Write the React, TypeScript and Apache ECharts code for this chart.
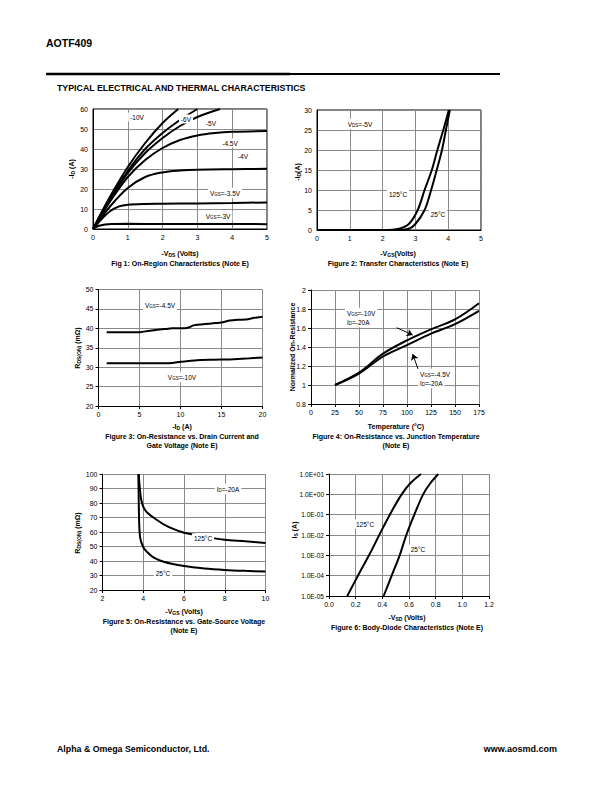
import React, { useEffect, useRef } from 'react';
import * as echarts from 'echarts';

const FF = '"Liberation Sans", Arial, Helvetica, sans-serif';

// ---------- Fig 1: On-Region Characteristics ----------
const fig1Vgs10 = [[0, 0], [0.25, 8.5], [0.5, 16.5], [1, 31], [1.5, 43], [2, 53], [2.45, 60]];
const fig1Vgs6 = [[0, 0], [0.5, 15.5], [1, 29], [1.5, 40], [2, 48], [2.5, 54.5], [3, 60]];
const fig1Vgs5 = [[0, 0], [0.5, 15], [1, 28], [1.5, 38], [2, 45.5], [2.5, 51.5], [3, 56], [3.65, 60]];
const fig1Vgs45 = [[0, 0], [0.5, 14], [1, 26], [1.5, 34.5], [2, 40.5], [2.5, 44.5], [3, 46.8], [3.5, 48], [4, 48.6], [5, 49]];
const fig1Vgs4 = [[0, 0], [0.5, 11.5], [1, 20.5], [1.5, 26], [2, 28.3], [2.5, 29.2], [3, 29.6], [4, 29.9], [5, 30.1]];
const fig1Vgs35 = [[0, 0], [0.25, 5], [0.5, 9], [0.75, 11.3], [1, 12.1], [1.5, 12.5], [2, 12.6], [3, 12.8], [4, 13], [5, 13.3]];
const fig1Vgs3 = [[0, 0], [0.15, 1.5], [0.35, 2.3], [0.6, 2.5], [1, 2.6], [2, 2.5], [3, 2.5], [4, 2.5], [5, 2.4]];

// ---------- Fig 2: Transfer Characteristics ----------
const fig2T125 = [[0, 0], [2.2, 0], [2.5, 0.3], [2.8, 1.5], [3.07, 5], [3.28, 10], [3.5, 15], [3.67, 20], [3.85, 25], [4.02, 30]];
const fig2T25 = [[0, 0], [2.5, 0], [2.8, 0.3], [3.0, 1.5], [3.28, 5], [3.48, 10], [3.65, 15], [3.81, 20], [3.93, 25], [4.05, 30]];

// ---------- Fig 3: On-Resistance vs Drain Current ----------
const fig3Vgs45 = [[1, 39], [3, 39], [5, 39], [6, 39.3], [7, 39.6], [8, 39.8], [9, 40], [10.5, 40], [11, 40.2], [11.5, 40.7], [12, 40.9], [13, 41.1], [14, 41.3], [15, 41.5], [16, 42], [17, 42.2], [18, 42.3], [19, 42.7], [20, 43]];
const fig3Vgs10 = [[1, 31], [5, 31], [8, 31], [9, 31.1], [10, 31.4], [11, 31.6], [12, 31.8], [14, 31.9], [16, 32], [18, 32.2], [20, 32.5]];

// ---------- Fig 4: On-Resistance vs Junction Temperature ----------
const fig4Vgs10 = [[25, 1], [50, 1.13], [75, 1.33], [100, 1.47], [125, 1.586], [150, 1.69], [175, 1.86]];
const fig4Vgs45 = [[25, 1], [50, 1.12], [75, 1.3], [100, 1.42], [125, 1.54], [150, 1.64], [175, 1.78]];
const fig4Arrow10 = [[89.3, 1.603], [105.9, 1.526]];
const fig4Arrow45 = [[111.5, 1.168], [105.9, 1.326]];

// ---------- Fig 5: On-Resistance vs Gate-Source Voltage ----------
const fig5T125 = [[3.78, 100], [3.82, 92], [3.88, 84], [3.95, 79.5], [4.05, 76], [4.2, 73.3], [4.5, 70], [5, 65.3], [5.5, 62], [6, 59.5], [6.4, 58.4], [7, 57], [7.5, 55.6], [8, 54.7], [9, 53.6], [10, 52.4]];
const fig5T25 = [[3.76, 100], [3.78, 80], [3.8, 66], [3.85, 56], [4, 49.5], [4.2, 46], [4.5, 42.5], [5, 39.5], [6, 36.5], [7, 34.8], [8, 33.8], [9, 33.2], [10, 32.8]];

// ---------- Fig 6: Body-Diode Characteristics ----------
const fig6T125 = [[0.137, 1e-5], [0.217, 1e-4], [0.3, 1e-3], [0.377, 1e-2], [0.456, 1e-1], [0.545, 1], [0.61, 3.5], [0.69, 10]];
const fig6T25 = [[0.41, 1e-5], [0.47, 1e-4], [0.53, 1e-3], [0.58, 1e-2], [0.64, 1e-1], [0.706, 1], [0.76, 3.5], [0.82, 10]];

const grids = [
  { left: 93, top: 109, width: 174, height: 120 },
  { left: 317, top: 110, width: 164, height: 120 },
  { left: 98.5, top: 289.5, width: 164, height: 116.5 },
  { left: 311, top: 290, width: 168, height: 114 },
  { left: 102.5, top: 474, width: 163, height: 116 },
  { left: 329, top: 474, width: 160, height: 122 },
];

const axisRanges = [
  { x: [0, 5, 1], y: [0, 60, 10] },
  { x: [0, 5, 1], y: [0, 30, 5] },
  { x: [0, 20, 5], y: [20, 50, 5] },
  { x: [0, 175, 25], y: [0.8, 2, 0.2] },
  { x: [2, 10, 2], y: [20, 100, 10] },
  { x: [0, 1.2, 0.2], y: [1e-5, 10, 0] },
];

const subRich = (size: number, bold: boolean) => ({
  s: { fontSize: size - 2, fontFamily: FF, fontWeight: bold ? 'bold' : 'normal', fill: '#000', verticalAlign: 'bottom', lineHeight: size + 2 },
  n: { fontSize: size, fontFamily: FF, fontWeight: bold ? 'bold' : 'normal', fill: '#000', lineHeight: size + 2 },
});

function txt(x: number, y: number, text: string, o: any = {}) {
  const size = o.size ?? 6.5;
  const bold = o.bold ?? false;
  const align = o.align ?? 'center';
  const style: any = {
    text,
    fontSize: size,
    fontFamily: FF,
    fontWeight: bold ? 'bold' : 'normal',
    fill: '#000',
    align,
    textAlign: align,
    verticalAlign: 'middle',
    textVerticalAlign: 'middle',
    rich: subRich(size, bold),
  };
  if (o.bg) {
    style.backgroundColor = '#fff';
    style.padding = [1, 2, 1, 2];
  }
  return { type: 'text', x, y, rotation: o.rot ?? 0, style, z: 100 };
}

function expLabel(v: number) {
  const e = Math.round(Math.log10(v));
  return '1.0E' + (e < 0 ? '-' : '+') + String(Math.abs(e)).padStart(2, '0');
}

export default function App() {
  const ref = useRef<HTMLDivElement>(null);
  useEffect(() => {
    if (!ref.current) return;
    const chart = echarts.init(ref.current, undefined, { renderer: 'svg' });

    const xAxis: any[] = [];
    const yAxis: any[] = [];
    axisRanges.forEach((r, i) => {
      const boxed = i < 2;
      const tick = { show: !boxed, length: 3, inside: false, lineStyle: { color: '#000' } };
      xAxis.push({
        type: 'value', gridIndex: i, min: r.x[0], max: r.x[1], interval: r.x[2],
        axisLine: { show: true, onZero: false, lineStyle: { color: '#000', width: 1 } },
        axisTick: tick,
        axisLabel: {
          fontSize: 7, fontFamily: FF, color: '#000', margin: 5,
          formatter: i === 5 ? (v: number) => v.toFixed(1) : undefined,
        },
        splitLine: { show: true, lineStyle: { color: '#8a8a8a', width: 1 } },
      });
      if (i === 5) {
        yAxis.push({
          type: 'log', logBase: 10, gridIndex: i, min: r.y[0], max: r.y[1],
          axisLine: { show: true, onZero: false, lineStyle: { color: '#000', width: 1 } },
          axisTick: tick,
          minorTick: { show: false },
          axisLabel: { fontSize: 6.5, fontFamily: FF, color: '#000', margin: 5, formatter: expLabel },
          splitLine: { show: true, lineStyle: { color: '#8a8a8a', width: 1 } },
        });
      } else {
        yAxis.push({
          type: 'value', gridIndex: i, min: r.y[0], max: r.y[1], interval: r.y[2],
          axisLine: { show: true, onZero: false, lineStyle: { color: '#000', width: 1 } },
          axisTick: tick,
          axisLabel: { fontSize: 7, fontFamily: FF, color: '#000', margin: 5 },
          splitLine: { show: true, lineStyle: { color: '#8a8a8a', width: 1 } },
        });
      }
    });

    const line = (gi: number, data: number[][], extra: any = {}) => ({
      type: 'line', xAxisIndex: gi, yAxisIndex: gi, data, showSymbol: false, symbol: 'none',
      smooth: 0.35, clip: true, silent: true,
      lineStyle: { color: '#000', width: 2 }, ...extra,
    });

    const series: any[] = [
      line(0, fig1Vgs10), line(0, fig1Vgs6), line(0, fig1Vgs5), line(0, fig1Vgs45),
      line(0, fig1Vgs4), line(0, fig1Vgs35), line(0, fig1Vgs3),
      line(1, fig2T125), line(1, fig2T25),
      line(2, fig3Vgs45, { smooth: 0.2 }), line(2, fig3Vgs10, { smooth: 0.2 }),
      line(3, fig4Vgs10, {
        markLine: {
          silent: true, symbol: ['none', 'arrow'], symbolSize: 6, animation: false,
          label: { show: false },
          lineStyle: { color: '#000', width: 1, type: 'solid' },
          data: [
            [{ coord: fig4Arrow10[0] }, { coord: fig4Arrow10[1] }],
            [{ coord: fig4Arrow45[0] }, { coord: fig4Arrow45[1] }],
          ],
        },
      }),
      line(3, fig4Vgs45),
      line(4, fig5T125, { smooth: 0.3 }), line(4, fig5T25, { smooth: 0.3 }),
      line(5, fig6T125), line(5, fig6T25),
    ];

    const graphic: any[] = [
      txt(46, 43, 'AOTF409', { size: 10.5, bold: true, align: 'left' }),
      { type: 'line', shape: { x1: 46, y1: 74, x2: 290, y2: 74 }, style: { stroke: '#000', lineWidth: 2.5 } },
      { type: 'line', shape: { x1: 290, y1: 74, x2: 500, y2: 74 }, style: { stroke: '#000', lineWidth: 1.8 } },
      txt(57, 88, 'TYPICAL ELECTRICAL AND THERMAL CHARACTERISTICS', { size: 8.8, bold: true, align: 'left' }),
      txt(57, 749, 'Alpha & Omega Semiconductor, Ltd.', { size: 8.8, bold: true, align: 'left' }),
      txt(557, 749, 'www.aosmd.com', { size: 9, bold: true, align: 'right' }),

      // Fig 1
      txt(71, 169, '{n|-I}{s|D}{n| (A)}', { size: 7, bold: true, rot: Math.PI / 2 }),
      txt(180, 253, '{n|-V}{s|DS}{n| (Volts)}', { size: 7, bold: true }),
      txt(180, 263, 'Fig 1: On-Region Characteristics (Note E)', { size: 7, bold: true }),
      txt(137, 117, '-10V', { bg: true }),
      txt(186, 119, '-6V', { bg: true }),
      txt(211, 123, '-5V', { bg: true }),
      txt(230, 143, '-4.5V', { bg: true }),
      txt(243, 156, '-4V', { bg: true }),
      txt(225, 193, '{n|V}{s|GS}{n|=-3.5V}', { bg: true }),
      txt(218, 216, '{n|V}{s|GS}{n|=-3V}', { bg: true }),

      // Fig 2
      txt(297, 172, '{n|-I}{s|D}{n|(A)}', { size: 7, bold: true, rot: Math.PI / 2 }),
      txt(398, 253, '{n|-V}{s|GS}{n|(Volts)}', { size: 7, bold: true }),
      txt(398, 263, 'Figure 2: Transfer Characteristics (Note E)', { size: 7, bold: true }),
      txt(360, 124, '{n|V}{s|DS}{n|=-5V}', { bg: true }),
      txt(398, 194, '125°C', { bg: true }),
      txt(438, 214, '25°C', { bg: true }),

      // Fig 3
      txt(77, 348, '{n|R}{s|DS(ON)}{n| (mΩ)}', { size: 7, bold: true, rot: Math.PI / 2 }),
      txt(182, 426, '{n|-I}{s|D}{n| (A)}', { size: 7, bold: true }),
      txt(182, 436, 'Figure 3: On-Resistance vs. Drain Current and', { size: 7, bold: true }),
      txt(182, 445, 'Gate Voltage (Note E)', { size: 7, bold: true }),
      txt(160, 305, '{n|V}{s|GS}{n|=-4.5V}', { bg: true }),
      txt(182, 377, '{n|V}{s|GS}{n|=-10V}', { bg: true }),

      // Fig 4
      txt(292, 347, 'Normalized On-Resistance', { size: 7, bold: true, rot: Math.PI / 2 }),
      txt(396, 426, 'Temperature (°C)', { size: 7, bold: true }),
      txt(396, 436, 'Figure 4: On-Resistance vs. Junction Temperature', { size: 7, bold: true }),
      txt(396, 445, '(Note E)', { size: 7, bold: true }),
      txt(345, 313, '{n|V}{s|GS}{n|=-10V}', { align: 'left', bg: true }),
      txt(345, 322, '{n|I}{s|D}{n|=-20A}', { align: 'left', bg: true }),
      txt(418, 374, '{n|V}{s|GS}{n|=-4.5V}', { align: 'left', bg: true }),
      txt(418, 383, '{n|I}{s|D}{n|=-20A}', { align: 'left', bg: true }),

      // Fig 5
      txt(77, 533, '{n|R}{s|DS(ON)}{n| (mΩ)}', { size: 7, bold: true, rot: Math.PI / 2 }),
      txt(184, 611, '{n|-V}{s|GS}{n| (Volts)}', { size: 7, bold: true }),
      txt(184, 621, 'Figure 5: On-Resistance vs. Gate-Source Voltage', { size: 7, bold: true }),
      txt(184, 630, '(Note E)', { size: 7, bold: true }),
      txt(228, 489, '{n|I}{s|D}{n|=-20A}', { bg: true }),
      txt(203, 538, '125°C', { bg: true }),
      txt(163, 573, '25°C', { bg: true }),

      // Fig 6
      txt(294, 530, '{n|I}{s|S}{n| (A)}', { size: 7, bold: true, rot: Math.PI / 2 }),
      txt(407, 617, '{n|-V}{s|SD}{n| (Volts)}', { size: 7, bold: true }),
      txt(407, 627, 'Figure 6: Body-Diode Characteristics (Note E)', { size: 7, bold: true }),
      txt(365, 524, '125°C', { bg: true }),
      txt(418, 549, '25°C', { bg: true }),
    ];

    chart.setOption({
      animation: false,
      backgroundColor: '#fff',
      textStyle: { fontFamily: FF },
      grid: grids.map((g, i) => ({
        ...g, containLabel: false, outerBoundsMode: 'none',
        show: i < 2, borderColor: '#000', borderWidth: 1, backgroundColor: 'transparent',
      })),
      xAxis, yAxis, series, graphic,
    });
    return () => chart.dispose();
  }, []);

  return (
    <div
      ref={ref}
      style={{ position: 'absolute', left: 0, top: 0, width: 612, height: 792, background: '#fff' }}
    />
  );
}
